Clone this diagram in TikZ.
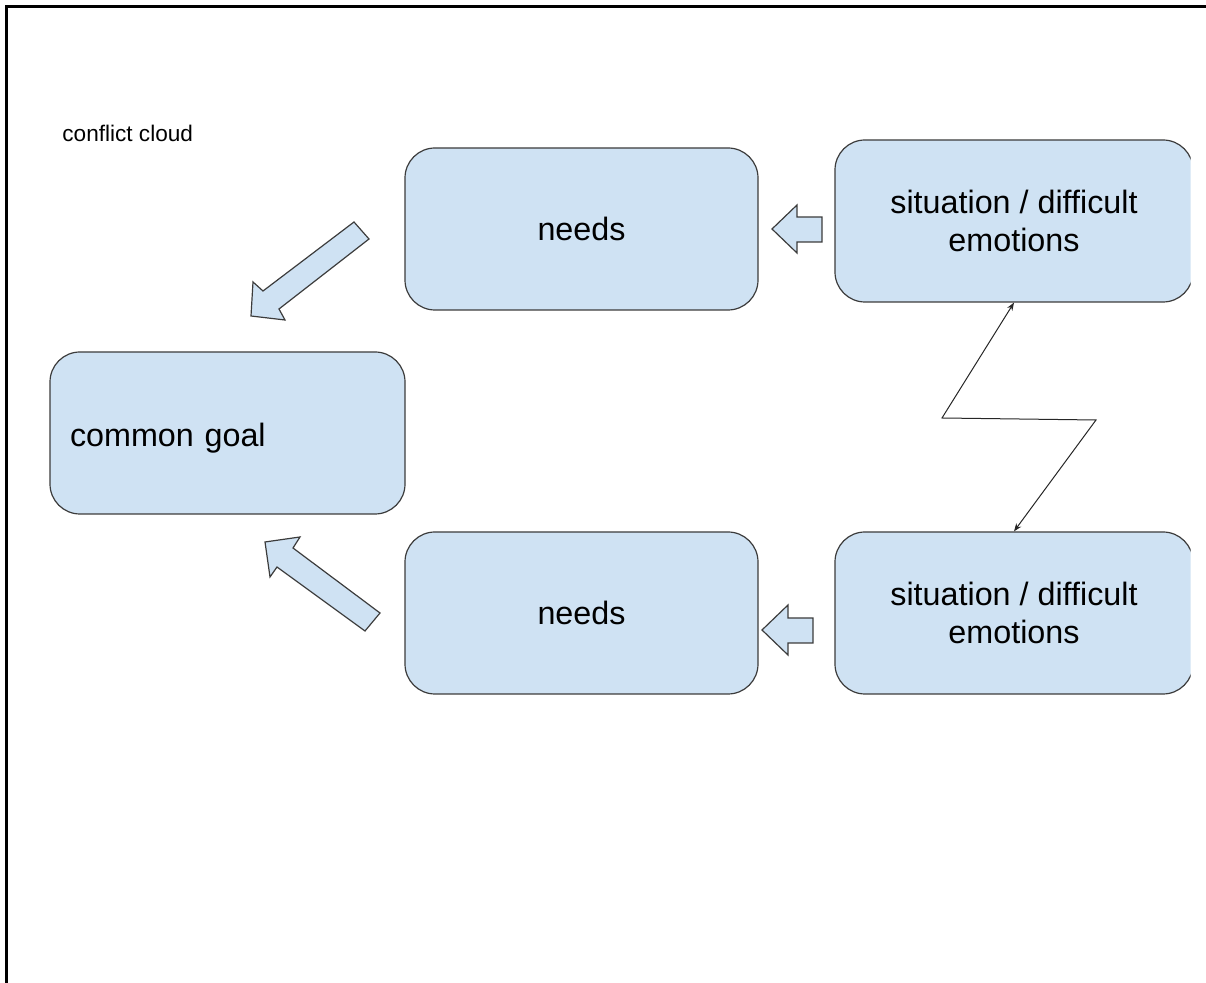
\documentclass[tikz,border=0pt]{standalone}
\usepackage{fontspec}
\setmainfont{Liberation Sans}
\usetikzlibrary{arrows.meta}
\definecolor{boxblue}{HTML}{CFE2F3}
\definecolor{edgegray}{HTML}{3C3C3C}
\begin{document}
\begin{tikzpicture}[x=0.5pt,y=-0.5pt,
  card/.style={shape=rectangle,rounded corners=15pt,draw=edgegray,line width=0.6pt,fill=boxblue,
    minimum width=176.5pt,minimum height=81pt,inner sep=0pt,align=center,
    font=\fontsize{16.15}{19}\selectfont},
  cardW/.style={card,minimum width=179pt},
  fatarrow/.style={draw=edgegray,line width=0.6pt,fill=boxblue,line join=miter},
  zigzag/.style={draw=black!85,line width=0.5pt,{Stealth[length=4pt,width=3pt]}-{Stealth[length=4pt,width=3pt]}}]
\def\yT{229};
\def\yB{613};

\useasboundingbox (0,0) rectangle (1206,983);
\draw[line width=1.5pt] (6.5,983) -- (6.5,6.5) -- (1206,6.5);

\node[anchor=west,font=\fontsize{11.3}{13}\selectfont,inner sep=0pt] (title) at (62,133) {conflict cloud};

\node[card] (needsT) at (581.5,\yT) {needs};
\node[card] (needsB) at (581.5,\yB) {needs};
\node[card,minimum width=177.5pt,text width=157.5pt,align=left,inner xsep=10pt,text height=16.5pt] (goal) at (227.5,433) {common goal};

\begin{scope}
\clip (800,100) rectangle (1190.5,720);
\node[cardW] (sitT) at (1014,221) {situation / difficult\\emotions};
\node[cardW] (sitB) at (1014,\yB) {situation / difficult\\emotions};
\end{scope}

% block arrows
\draw[fatarrow] (772,\yT) -- (797,205) -- (797,217) -- (822,217) -- (822,242) -- (797,242) -- (797,253) -- cycle;
\draw[fatarrow] (762,630) -- (788,605) -- (788,618) -- (813,618) -- (813,643) -- (788,643) -- (788,655) -- cycle;
\draw[fatarrow] (251,316) -- (253,282) -- (263,291) -- (354,222) -- (369,239) -- (279,309) -- (285,320) -- cycle;
\draw[fatarrow] (265,542) -- (300,537) -- (293,548) -- (380,613) -- (365,631) -- (277,567) -- (270,577) -- cycle;

% lightning link
\coordinate (zA) at (942,418);
\coordinate (zB) at (1096,420);
\draw[zigzag] (sitT.south) -- (zA) -- (zB) -- (sitB.north);
\end{tikzpicture}
\end{document}
